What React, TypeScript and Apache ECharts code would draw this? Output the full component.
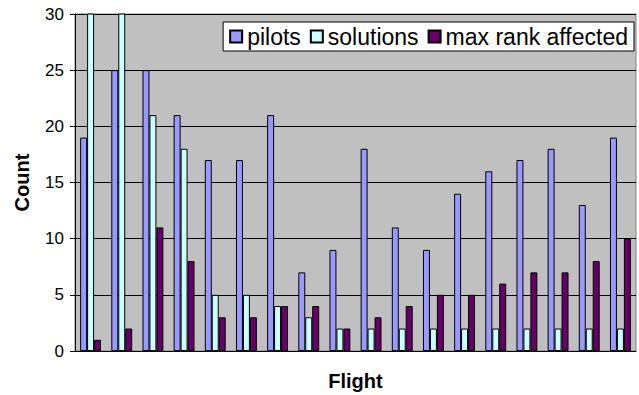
import React, { useEffect, useRef } from "react";
import * as echarts from "echarts";

const flights = ["1", "2", "3", "4", "5", "6", "7", "8", "9", "10", "11", "12", "13", "14", "15", "16", "17", "18"];
const pilots = [19, 25, 25, 21, 17, 17, 21, 7, 9, 18, 11, 9, 14, 16, 17, 18, 13, 19];
const solutions = [35, 38, 21, 18, 5, 5, 4, 3, 2, 2, 2, 2, 2, 2, 2, 2, 2, 2];
const maxRank = [1, 2, 11, 8, 3, 3, 4, 4, 2, 3, 4, 5, 5, 6, 7, 7, 8, 10];
const yTicks = { min: 0, max: 30, interval: 5 };

const FONT = "Liberation Sans, Arial, sans-serif";

export default function App() {
  const ref = useRef<HTMLDivElement>(null);
  useEffect(() => {
    if (!ref.current) return;
    const chart = echarts.init(ref.current, undefined, { renderer: "svg" });
    const barStyle = (color: string) => ({ color, borderColor: "#000", borderWidth: 1 });
    chart.setOption({
      animation: false,
      textStyle: { fontFamily: FONT },
      grid: {
        left: 75,
        right: 3,
        top: 14,
        bottom: 44,
        outerBoundsMode: "none",
        containLabel: false,
        show: true,
        backgroundColor: "#C0C0C0",
        borderColor: "#808080",
        borderWidth: 1,
      },
      legend: {
        right: 5,
        top: 22,
        backgroundColor: "#fff",
        borderColor: "#000",
        borderWidth: 1,
        padding: [3, 6, 3, 6],
        itemGap: 9,
        itemWidth: 12,
        itemHeight: 12,
        icon: "rect",
        textStyle: { fontSize: 23, color: "#000", fontFamily: FONT },
        data: ["pilots", "solutions", "max rank affected"],
      },
      xAxis: {
        type: "category",
        data: flights,
        name: "Flight",
        nameLocation: "middle",
        nameGap: 20,
        nameTextStyle: { fontSize: 20, fontWeight: "bold", color: "#000", fontFamily: FONT },
        axisLabel: { show: false },
        axisTick: { show: false },
        axisLine: { show: true, lineStyle: { color: "#000", width: 1 } },
      },
      yAxis: {
        type: "value",
        min: yTicks.min,
        max: yTicks.max,
        interval: yTicks.interval,
        name: "Count",
        nameLocation: "middle",
        nameGap: 43,
        nameRotate: 90,
        nameTextStyle: { fontSize: 20, fontWeight: "bold", color: "#000", fontFamily: FONT },
        axisLabel: { fontSize: 17, color: "#000", margin: 11, fontFamily: FONT },
        axisTick: { show: true, length: 5, lineStyle: { color: "#000" } },
        axisLine: { show: true, lineStyle: { color: "#000", width: 1 } },
        splitLine: { show: true, lineStyle: { color: "#000", width: 1 } },
      },
      series: [
        { name: "pilots", type: "bar", data: pilots, barGap: "0%", barCategoryGap: "33%", itemStyle: barStyle("#9999FF"), clip: true },
        { name: "solutions", type: "bar", data: solutions, barGap: "0%", barCategoryGap: "33%", itemStyle: barStyle("#CCFFFF"), clip: true },
        { name: "max rank affected", type: "bar", data: maxRank, barGap: "0%", barCategoryGap: "33%", itemStyle: barStyle("#660066"), clip: true },
      ],
    });
    return () => chart.dispose();
  }, []);
  return <div ref={ref} style={{ position: "absolute", left: 0, top: 0, width: 639, height: 395 }} />;
}
